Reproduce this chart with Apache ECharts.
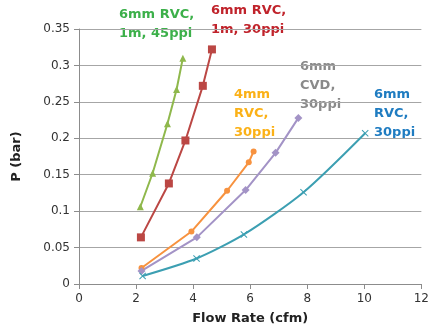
<!DOCTYPE html>
<html>
<head>
<meta charset="utf-8">
<script src="https://cdn.jsdelivr.net/npm/echarts@6/dist/echarts.min.js"></script>
<style>
  html, body { margin: 0; padding: 0; background: #fff; }
  #chart { width: 432px; height: 332px; }
</style>
</head>
<body>
<div id="chart"></div>
<script>
// flow rate (cfm) / pressure drop (bar) per foam sample
const rvc45X = [2.15, 2.58, 3.10, 3.42, 3.64]
const rvc45Y = [0.106, 0.152, 0.220, 0.267, 0.310]
const rvc30mX = [2.17, 3.15, 3.73, 4.34, 4.66]
const rvc30mY = [0.064, 0.138, 0.197, 0.272, 0.322]
const rvc4X = [2.19, 3.94, 5.19, 5.95, 6.12]
const rvc4Y = [0.022, 0.072, 0.128, 0.167, 0.182]
const cvdX = [2.19, 4.13, 5.84, 6.89, 7.69]
const cvdY = [0.018, 0.064, 0.129, 0.180, 0.228]
const rvc6X = [2.23, 4.12, 5.78, 7.87, 10.03]
const rvc6Y = [0.011, 0.035, 0.068, 0.126, 0.207]

const seriesLabels = [
  { lines: ['6mm RVC,', '1m, 45ppi'], color: '#3cb04a', x: 119, y: 5 },
  { lines: ['6mm RVC,', '1m, 30ppi'], color: '#c0232b', x: 211, y: 1 },
  { lines: ['4mm', 'RVC,', '30ppi'], color: '#fbb117', x: 234, y: 85 },
  { lines: ['6mm', 'CVD,', '30ppi'], color: '#8a8a8a', x: 300, y: 57 },
  { lines: ['6mm', 'RVC,', '30ppi'], color: '#1f7cc1', x: 374, y: 85 }
]

const crossPath = 'path://M0,1L1,0L5,4L9,0L10,1L6,5L10,9L9,10L5,6L1,10L0,9L4,5Z'

function pairs(xs, ys) {
  return xs.map((x, i) => [x, ys[i]])
}

function line(name, xs, ys, color, symbol, size, smooth) {
  return {
    name,
    type: 'line',
    data: pairs(xs, ys),
    symbol,
    symbolSize: size,
    smooth: smooth || false,
    lineStyle: { color, width: 2 },
    itemStyle: { color },
    z: 3
  }
}

const chart = echarts.init(document.getElementById('chart'))
chart.setOption({
  animation: false,
  grid: { left: 79, right: 10, top: 29, bottom: 48 },
  xAxis: {
    type: 'value',
    min: 0, max: 12, interval: 2,
    name: 'Flow Rate (cfm)',
    nameLocation: 'middle',
    nameGap: 28,
    nameTextStyle: { fontFamily: 'DejaVu Sans', fontSize: 13, fontWeight: 'bold', color: '#222' },
    axisLine: { show: true, lineStyle: { color: '#8c8c8c' } },
    axisTick: { show: true, length: 5, lineStyle: { color: '#8c8c8c' } },
    axisLabel: { fontFamily: 'DejaVu Sans', fontSize: 12, color: '#333', margin: 9 },
    splitLine: { show: false }
  },
  yAxis: {
    type: 'value',
    min: 0, max: 0.35, interval: 0.05,
    name: 'P (bar)',
    nameLocation: 'middle',
    nameGap: 56,
    nameTextStyle: { fontFamily: 'DejaVu Sans', fontSize: 13, fontWeight: 'bold', color: '#222' },
    axisLine: { show: true, lineStyle: { color: '#8c8c8c' } },
    axisTick: { show: true, length: 5, lineStyle: { color: '#8c8c8c' } },
    axisLabel: {
      fontFamily: 'DejaVu Sans', fontSize: 12, color: '#333', margin: 9,
      formatter: v => String(+v.toFixed(2))
    },
    splitLine: { lineStyle: { color: '#a6a6a6' } }
  },
  series: [
    line('6mm RVC, 1m, 45ppi', rvc45X, rvc45Y, '#8fb84c', 'triangle', 7),
    line('6mm RVC, 1m, 30ppi', rvc30mX, rvc30mY, '#bb4744', 'rect', 8),
    line('4mm RVC, 30ppi', rvc4X, rvc4Y, '#f7923f', 'circle', 6),
    line('6mm CVD, 30ppi', cvdX, cvdY, '#a393c6', 'diamond', 8),
    line('6mm RVC, 30ppi', rvc6X, rvc6Y, '#3c9fb2', crossPath, 7, 0.25)
  ],
  graphic: seriesLabels.map(l => ({
    type: 'text',
    left: l.x,
    top: l.y,
    style: {
      text: l.lines.join('\n'),
      fill: l.color,
      font: 'bold 13px "DejaVu Sans"',
      lineHeight: 19
    }
  }))
})
</script>
</body>
</html>
